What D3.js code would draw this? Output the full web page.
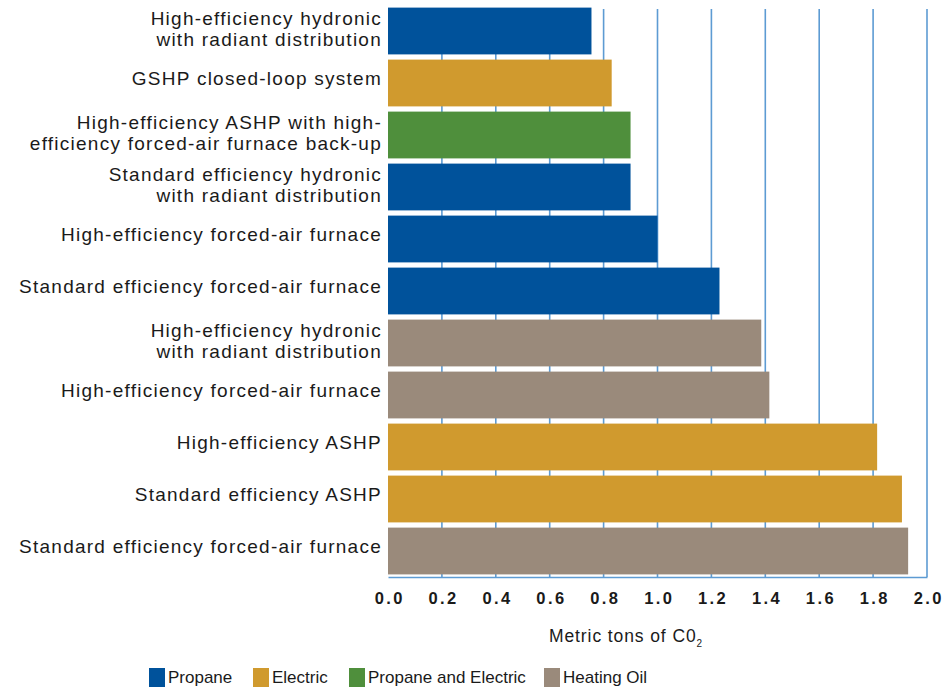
<!DOCTYPE html>
<html>
<head>
<meta charset="utf-8">
<script src="https://cdn.jsdelivr.net/npm/d3@7"></script>
<style>
  body { margin: 0; background: #fff; }
  text { font-family: "Liberation Sans", Helvetica, Arial, sans-serif; }
</style>
</head>
<body>
<script>
// data, top to bottom
const categories = [
  ["High-efficiency hydronic", "with radiant distribution"],
  ["GSHP closed-loop system"],
  ["High-efficiency ASHP with high-", "efficiency forced-air furnace back-up"],
  ["Standard efficiency hydronic", "with radiant distribution"],
  ["High-efficiency forced-air furnace"],
  ["Standard efficiency forced-air furnace"],
  ["High-efficiency hydronic", "with radiant distribution"],
  ["High-efficiency forced-air furnace"],
  ["High-efficiency ASHP"],
  ["Standard efficiency ASHP"],
  ["Standard efficiency forced-air furnace"]
];
const fuels = ["Propane", "Electric", "Propane and Electric", "Propane", "Propane", "Propane",
               "Heating Oil", "Heating Oil", "Electric", "Electric", "Heating Oil"];
const values = [0.755, 0.83, 0.90, 0.90, 1.0, 1.23, 1.385, 1.415, 1.815, 1.907, 1.93];
const tickValues = [0, 0.2, 0.4, 0.6, 0.8, 1.0, 1.2, 1.4, 1.6, 1.8, 2.0];
const legendNames = ["Propane", "Electric", "Propane and Electric", "Heating Oil"];
const legendColors = ["#00529b", "#d09a2e", "#4f8f3c", "#9a8a7b"];

const width = 944, height = 688;
const plotLeft = 388, plotRight = 927, plotTop = 5, plotBottom = 577;

const svg = d3.select("body").append("svg")
  .attr("width", width)
  .attr("height", height);

const x = d3.scaleLinear().domain([0, 2]).range([plotLeft, plotRight]);
const y = d3.scaleBand().domain(d3.range(categories.length)).range([plotTop, plotBottom]).paddingInner(0.1).paddingOuter(0.05);
const color = d3.scaleOrdinal().domain(legendNames).range(legendColors);

// gridlines
svg.append("g").selectAll("line")
  .data(tickValues.slice(1))
  .join("line")
  .attr("x1", d => x(d)).attr("x2", d => x(d))
  .attr("y1", 9).attr("y2", plotBottom)
  .attr("stroke", "#5d9bd3")
  .attr("stroke-width", 1.6);

// bars
svg.append("g").selectAll("rect")
  .data(values)
  .join("rect")
  .attr("x", x(0))
  .attr("y", (d, i) => y(i))
  .attr("width", d => x(d) - x(0))
  .attr("height", y.bandwidth())
  .attr("fill", (d, i) => color(fuels[i]));

// bottom axis
const xAxis = svg.append("g")
  .attr("transform", `translate(0,${plotBottom})`)
  .call(d3.axisBottom(x).tickValues(tickValues).tickFormat(d3.format(".1f")).tickSize(0).tickPadding(15));
xAxis.select(".domain").attr("stroke", "#5d9bd3").attr("stroke-width", 1.6);
xAxis.selectAll("text")
  .attr("font-size", 16.5)
  .attr("font-weight", "bold")
  .attr("letter-spacing", 2.4)
  .attr("dx", 1.2)
  .attr("fill", "#1a1a1a");

// category labels
const lab = svg.append("g").selectAll("text")
  .data(categories)
  .join("text")
  .attr("text-anchor", "end")
  .attr("font-size", 19)
  .attr("letter-spacing", 1.25)
  .attr("fill", "#1a1a1a")
  .attr("y", (d, i) => y(i) + y.bandwidth() / 2 + 2 - (d.length - 1) * 8.5);
lab.selectAll("tspan")
  .data(d => d)
  .join("tspan")
  .attr("x", 382)
  .attr("dy", (d, i) => i ? 21 : 0)
  .text(d => d);

// axis title
const title = svg.append("text")
  .attr("x", 549).attr("y", 642)
  .attr("font-size", 17.5)
  .attr("letter-spacing", 0.9)
  .attr("fill", "#1a1a1a");
title.append("tspan").text("Metric tons of C0");
title.append("tspan").attr("font-size", 10).attr("dy", 5).text("2");

// legend
const legX = [149, 253, 349, 544];
const leg = svg.append("g").selectAll("g")
  .data(legendNames)
  .join("g")
  .attr("transform", (d, i) => `translate(${legX[i]},668)`);
leg.append("rect")
  .attr("width", 16).attr("height", 19)
  .attr("fill", d => color(d));
leg.append("text")
  .attr("x", 19).attr("y", 15)
  .attr("font-size", 17)
  .attr("fill", "#1a1a1a")
  .text(d => d);
</script>
</body>
</html>
